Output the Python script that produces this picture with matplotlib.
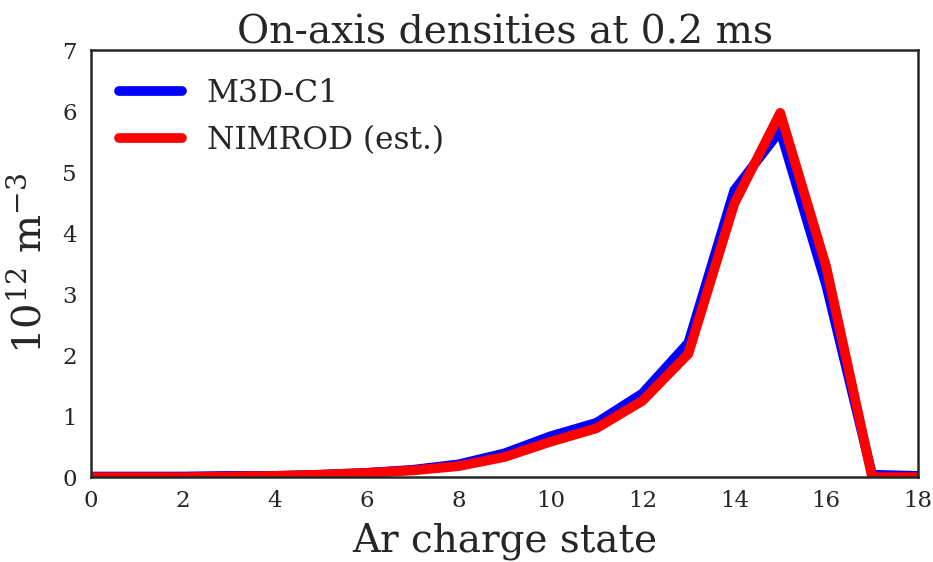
import matplotlib
matplotlib.use("Agg")
import matplotlib.pyplot as plt
import seaborn as sns
import numpy as np

charge_states = list(range(19))
m3dc1 = [0.01, 0.01, 0.01, 0.02, 0.02, 0.04, 0.07, 0.12, 0.21, 0.39, 0.67, 0.89, 1.37, 2.20, 4.70, 5.68, 3.15, 0.04, 0.02]
nimrod = [0.0, 0.0, 0.0, 0.01, 0.02, 0.04, 0.07, 0.11, 0.18, 0.33, 0.58, 0.80, 1.25, 2.02, 4.48, 5.97, 3.45, 0.0, 0.0]
xticks = list(range(0, 19, 2))
yticks = list(range(0, 8))

sns.set_style("white")
plt.rcParams['font.family'] = ['DejaVu Serif']
plt.rcParams['mathtext.fontset'] = 'dejavuserif'

fig = plt.figure(figsize=(9.33, 5.62), dpi=100)
ax = fig.add_axes([0.0975, 0.151, 0.8865, 0.76])
ax.plot(charge_states, m3dc1, color='blue', lw=7, label='M3D-C1')
ax.plot(charge_states, nimrod, color='red', lw=7, label='NIMROD (est.)')
ax.set_xlim(0, 18)
ax.set_ylim(0, 7)
ax.set_xticks(xticks)
ax.set_yticks(yticks)
ax.tick_params(labelsize=16.5, length=0)
ax.tick_params(axis='x', pad=9)
ax.tick_params(axis='y', pad=10)
for s in ax.spines.values():
    s.set_linewidth(1.8)
    s.set_color('.15')
ax.set_title('On-axis densities at 0.2 ms', fontsize=28.3, color='.15', pad=5)
ax.set_xlabel('Ar charge state', fontsize=28, color='.15', labelpad=8)
ax.set_ylabel(r'10$^{12}$ m$^{-3}$', fontsize=29, color='.15', labelpad=10)
leg = ax.legend(loc='upper left', fontsize=22.5, frameon=False, handlelength=2.0, borderaxespad=0.5, handletextpad=0.8)
for t in leg.get_texts():
    t.set_color('.15')
fig.savefig('out.png', dpi=100)
